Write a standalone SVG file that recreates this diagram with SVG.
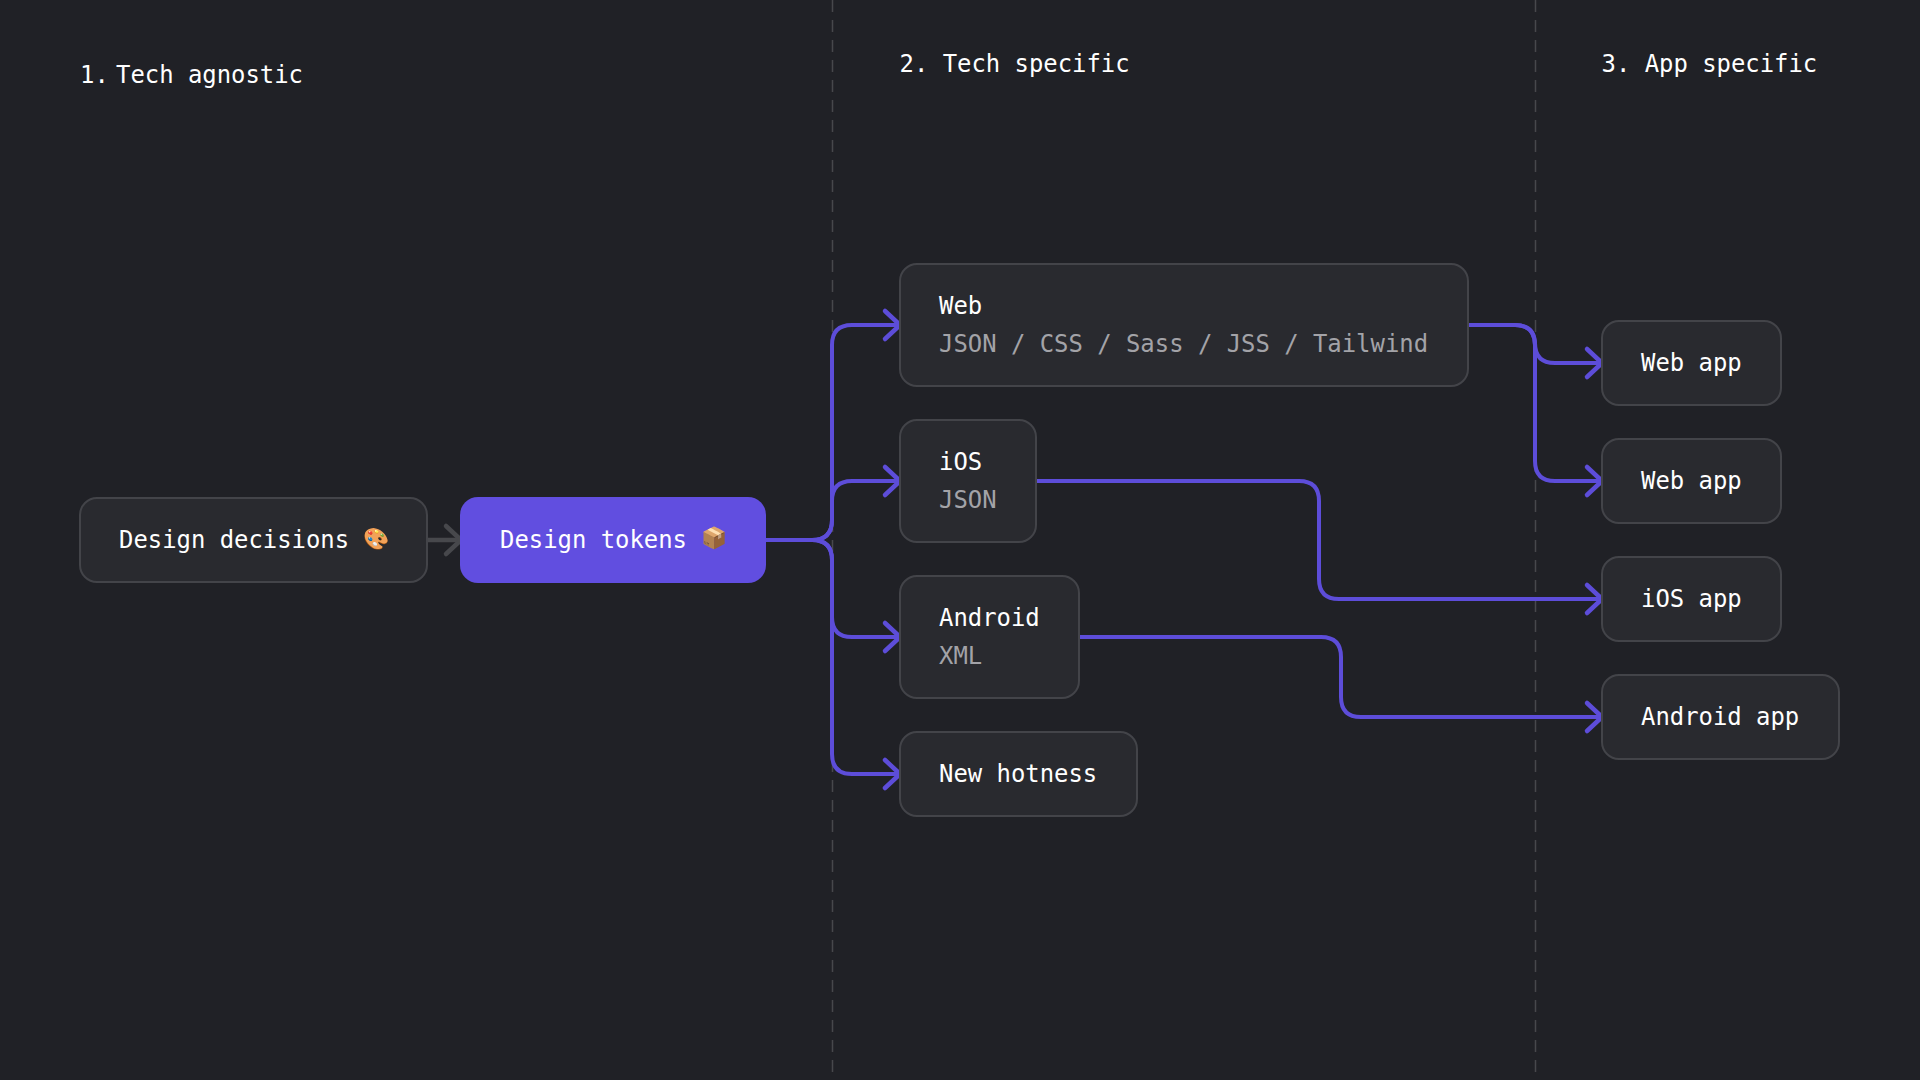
<svg xmlns="http://www.w3.org/2000/svg" width="1920" height="1080" viewBox="0 0 1920 1080">
<defs>
<style>
text{font-family:"DejaVu Sans Mono","Liberation Mono","Noto Color Emoji",monospace;font-size:23.9px;fill:#fff}
.sub{fill:#a3a3a8}
.node{fill:#292a2f;stroke:#434449;stroke-width:2}
.brand{fill:#614ee0}
.link{fill:none;stroke:#5d4dd9;stroke-width:4;stroke-linejoin:round}
.grey{fill:none;stroke:#47484c;stroke-width:4.5;stroke-linecap:round;stroke-linejoin:round}
.head{fill:none;stroke:#5d4dd9;stroke-width:4.5;stroke-linecap:round;stroke-linejoin:round}
.divider{stroke:#47484c;stroke-width:1.5;stroke-dasharray:12 8}
.emoji{font-size:21px}
</style>
<marker id="arrow" markerUnits="userSpaceOnUse" markerWidth="24" markerHeight="36" refX="17" refY="18" orient="auto" overflow="visible"><path class="head" d="M3 4L18 18L3 32"/></marker>
<marker id="arrow-grey" markerUnits="userSpaceOnUse" markerWidth="24" markerHeight="36" refX="17" refY="18" orient="auto" overflow="visible"><path class="grey" d="M3 4L18 18L3 32"/></marker>
</defs>
<rect width="1920" height="1080" fill="#202126"/>
<g id="dividers">
<line class="divider" x1="832.5" y1="0" x2="832.5" y2="1080"/>
<line class="divider" x1="1535.5" y1="0" x2="1535.5" y2="1080"/>
</g>
<g id="headings">
<text x="80" y="83">1.</text><text x="116" y="83">Tech agnostic</text>
<text x="899.5" y="72">2. Tech specific</text>
<text x="1601.5" y="72">3. App specific</text>
</g>
<g id="connectors">
<path class="grey" marker-end="url(#arrow-grey)" d="M427 540H460"/>
<path class="link" marker-end="url(#arrow)" d="M766 540H812Q832 540 832 520V345Q832 325 852 325H899"/>
<path class="link" marker-end="url(#arrow)" d="M766 540H812Q832 540 832 520V501Q832 481 852 481H899"/>
<path class="link" marker-end="url(#arrow)" d="M766 540H812Q832 540 832 560V617Q832 637 852 637H899"/>
<path class="link" marker-end="url(#arrow)" d="M766 540H812Q832 540 832 560V754Q832 774 852 774H899"/>
<path class="link" marker-end="url(#arrow)" d="M1468 325H1515Q1535 325 1535 345V343Q1535 363 1555 363H1601"/>
<path class="link" marker-end="url(#arrow)" d="M1468 325H1515Q1535 325 1535 345V461Q1535 481 1555 481H1601"/>
<path class="link" marker-end="url(#arrow)" d="M1037 481H1299Q1319 481 1319 501V579Q1319 599 1339 599H1601"/>
<path class="link" marker-end="url(#arrow)" d="M1079 637H1321Q1341 637 1341 657V697Q1341 717 1361 717H1601"/>
</g>
<g id="design-decisions"><rect class="node" x="80" y="498" width="347" height="84" rx="17"/><text x="119" y="548">Design decisions <tspan class="emoji" dy="-2">🎨</tspan></text></g>
<g id="design-tokens"><rect class="brand" x="460" y="497" width="306" height="86" rx="18"/><text x="500" y="548">Design tokens <tspan class="emoji" dy="-3">📦</tspan></text></g>
<g id="web"><rect class="node" x="900" y="264" width="568" height="122" rx="17"/><text x="939" y="314">Web</text><text class="sub" x="939" y="352">JSON / CSS / Sass / JSS / Tailwind</text></g>
<g id="ios"><rect class="node" x="900" y="420" width="136" height="122" rx="17"/><text x="939" y="470">iOS</text><text class="sub" x="939" y="508">JSON</text></g>
<g id="android"><rect class="node" x="900" y="576" width="179" height="122" rx="17"/><text x="939" y="626">Android</text><text class="sub" x="939" y="664">XML</text></g>
<g id="new-hotness"><rect class="node" x="900" y="732" width="237" height="84" rx="17"/><text x="939" y="782">New hotness</text></g>
<g id="web-app-1"><rect class="node" x="1602" y="321" width="179" height="84" rx="17"/><text x="1641" y="371">Web app</text></g>
<g id="web-app-2"><rect class="node" x="1602" y="439" width="179" height="84" rx="17"/><text x="1641" y="489">Web app</text></g>
<g id="ios-app"><rect class="node" x="1602" y="557" width="179" height="84" rx="17"/><text x="1641" y="607">iOS app</text></g>
<g id="android-app"><rect class="node" x="1602" y="675" width="237" height="84" rx="17"/><text x="1641" y="725">Android app</text></g>
</svg>
